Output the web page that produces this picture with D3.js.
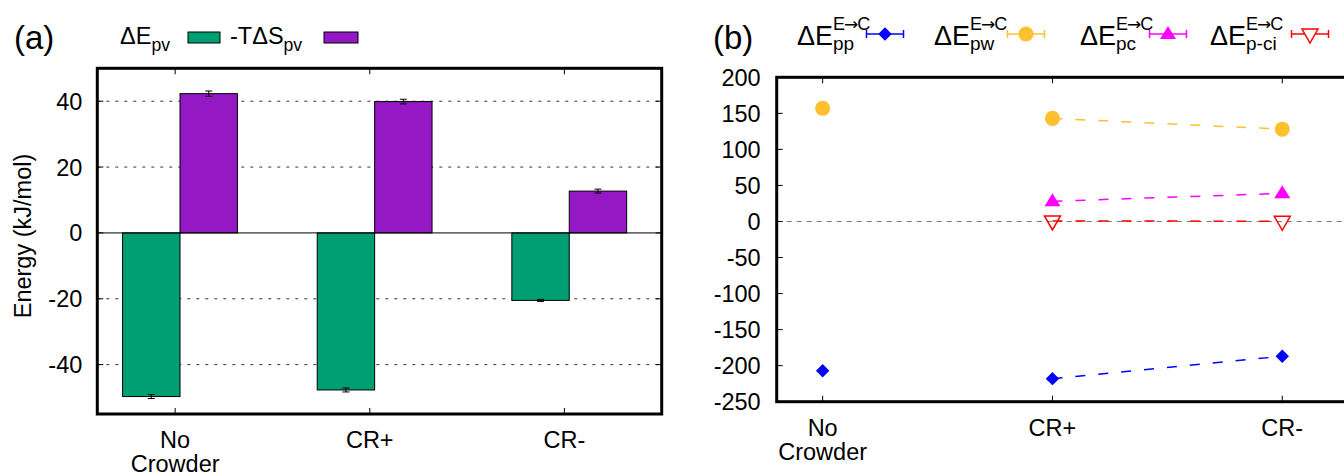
<!DOCTYPE html>
<html>
<head>
<meta charset="utf-8">
<script src="https://cdn.jsdelivr.net/npm/d3@7"></script>
<style>
  body { margin: 0; background: #fff; }
  text { font-family: "Liberation Sans", Arial, sans-serif; fill: #000; }
</style>
</head>
<body>
<div id="chart"></div>
<script>
// ---------------------------------------------------------------------------
// Data

var groups = ["No Crowder", "CR+", "CR-"];

// panel (a): bars
var dEpv      = [-49.7, -47.7, -20.5];
var dEpvErr   = [0.6, 0.6, 0.3];
var tdSpv     = [42.3, 39.9, 12.7];
var tdSpvErr  = [0.8, 0.7, 0.6];
var yTicksA   = [-40, -20, 0, 20, 40];

// panel (b): E -> C energy components
var ePP  = [-207, -218, -187];
var ePW  = [157, 143, 128];
var ePC  = [null, 28, 39];
var ePCI = [null, 0.8, 0.3];
var yTicksB = [-250, -200, -150, -100, -50, 0, 50, 100, 150, 200];

// ---------------------------------------------------------------------------

var W = 1344, H = 476;
var green = "#009e73", purple = "#9418c4";

var svg = d3.select("#chart").append("svg")
    .attr("width", W).attr("height", H);

// scales
var xA = d3.scaleLinear().domain([-0.4, 2.5]).range([97.3, 661.7]);
var yA = d3.scaleLinear().domain([-55, 50]).range([414, 68.3]);
var xB = d3.scaleLinear().domain([-0.2, 2.3]).range([776.7, 1351.2]);
var yB = d3.scaleLinear().domain([-250, 200]).range([401.7, 77.3]);

var fs = 23.5;

function groupLabel(g, x, y0, name) {
    var lines = name === "No Crowder" ? ["No", "Crowder"] : [name];
    lines.forEach(function(s, i) {
        g.append("text").attr("x", x).attr("y", y0 + i * 24)
            .attr("text-anchor", "middle").attr("font-size", fs).text(s);
    });
}

//////////////////////////////////////////////////////////////////////////////
// Panel (a)

var pa = svg.append("g");

// grid lines
pa.append("g").selectAll("line")
    .data(yTicksA.filter(function(d) { return d !== 0; }))
    .enter().append("line")
    .attr("x1", xA.range()[0]).attr("x2", xA.range()[1])
    .attr("y1", function(d) { return yA(d); }).attr("y2", function(d) { return yA(d); })
    .attr("stroke", "#333").attr("stroke-width", 1)
    .attr("stroke-dasharray", "3,6");

var bw = 0.295;

pa.append("g").selectAll("rect")
    .data(dEpv).enter().append("rect")
    .attr("x", function(d, i) { return xA(i - 0.27); })
    .attr("width", xA(bw) - xA(0))
    .attr("y", function(d) { return yA(Math.max(0, d)); })
    .attr("height", function(d) { return Math.abs(yA(d) - yA(0)); })
    .attr("fill", green).attr("stroke", "#000").attr("stroke-width", 1);

pa.append("g").selectAll("rect")
    .data(tdSpv).enter().append("rect")
    .attr("x", function(d, i) { return xA(i - 0.27 + bw); })
    .attr("width", xA(bw) - xA(0))
    .attr("y", function(d) { return yA(Math.max(0, d)); })
    .attr("height", function(d) { return Math.abs(yA(d) - yA(0)); })
    .attr("fill", purple).attr("stroke", "#000").attr("stroke-width", 1);

// error bars
function errBars(vals, errs, off) {
    vals.forEach(function(v, i) {
        var cx = xA(i + off);
        var e = pa.append("g").attr("stroke", "#000").attr("stroke-width", 1);
        e.append("line").attr("x1", cx).attr("x2", cx)
            .attr("y1", yA(v - errs[i])).attr("y2", yA(v + errs[i]));
        [v - errs[i], v + errs[i]].forEach(function(t) {
            e.append("line").attr("x1", cx - 3.5).attr("x2", cx + 3.5)
                .attr("y1", yA(t)).attr("y2", yA(t));
        });
    });
}
errBars(dEpv, dEpvErr, -0.27 + bw / 2);
errBars(tdSpv, tdSpvErr, -0.27 + 1.5 * bw);

// zero line
pa.append("line")
    .attr("x1", xA.range()[0]).attr("x2", xA.range()[1])
    .attr("y1", yA(0)).attr("y2", yA(0))
    .attr("stroke", "#000").attr("stroke-width", 1);

// ticks (inward, mirrored)
yTicksA.forEach(function(t) {
    pa.append("line").attr("x1", xA.range()[0]).attr("x2", xA.range()[0] + 6)
        .attr("y1", yA(t)).attr("y2", yA(t)).attr("stroke", "#000");
    pa.append("line").attr("x1", xA.range()[1]).attr("x2", xA.range()[1] - 6)
        .attr("y1", yA(t)).attr("y2", yA(t)).attr("stroke", "#000");
    pa.append("text").attr("x", xA.range()[0] - 15).attr("y", yA(t))
        .attr("dy", "0.36em").attr("text-anchor", "end").attr("font-size", fs)
        .text(t);
});
groups.forEach(function(g, i) {
    pa.append("line").attr("x1", xA(i)).attr("x2", xA(i))
        .attr("y1", yA.range()[0]).attr("y2", yA.range()[0] - 6).attr("stroke", "#000");
    pa.append("line").attr("x1", xA(i)).attr("x2", xA(i))
        .attr("y1", yA.range()[1]).attr("y2", yA.range()[1] + 6).attr("stroke", "#000");
    groupLabel(pa, xA(i), 448, g);
});

// frame
pa.append("rect")
    .attr("x", xA.range()[0]).attr("y", yA.range()[1])
    .attr("width", xA.range()[1] - xA.range()[0])
    .attr("height", yA.range()[0] - yA.range()[1])
    .attr("fill", "none").attr("stroke", "#000").attr("stroke-width", 3);

// y label
pa.append("text")
    .attr("transform", "translate(31,236) rotate(-90)")
    .attr("text-anchor", "middle").attr("font-size", fs)
    .text("Energy (kJ/mol)");

pa.append("text").attr("x", 14).attr("y", 49).attr("font-size", 33).text("(a)");

// legend (a)
function subLabel(g, x, y, main, sub, size) {
    var t = g.append("text").attr("x", x).attr("y", y).attr("font-size", size);
    t.append("tspan").text(main);
    t.append("tspan").attr("font-size", size * 0.75).attr("dy", size * 0.3).text(sub);
    return t;
}
subLabel(pa, 120, 44, "\u0394E", "pv", fs);
pa.append("rect").attr("x", 188).attr("y", 32).attr("width", 32).attr("height", 11)
    .attr("fill", green).attr("stroke", "#000");
subLabel(pa, 230, 44, "-T\u0394S", "pv", fs);
pa.append("rect").attr("x", 324).attr("y", 32).attr("width", 34).attr("height", 11)
    .attr("fill", purple).attr("stroke", "#000");

//////////////////////////////////////////////////////////////////////////////
// Panel (b)

var pb = svg.append("g");

pb.append("line")
    .attr("x1", xB.range()[0]).attr("x2", xB.range()[1])
    .attr("y1", yB(0)).attr("y2", yB(0))
    .attr("stroke", "#777").attr("stroke-width", 1.2).attr("stroke-dasharray", "5,5");

var diamond = d3.symbol().type(d3.symbolDiamond2).size(115);
var circle = d3.symbol().type(d3.symbolCircle).size(180);
function triUp() { return "M-8,5L8,5L0,-8Z"; }
function triDown() { return "M-8,-5L8,-5L0,9Z"; }

var series = [
    { vals: ePP,  color: "#0000ff", path: function() { return diamond(); }, fill: true,  sub: "pp" },
    { vals: ePW,  color: "#ffc030", path: function() { return circle(); },  fill: true,  sub: "pw" },
    { vals: ePC,  color: "#ff00ff", path: triUp,   fill: true,  sub: "pc" },
    { vals: ePCI, color: "#ff0000", path: triDown, fill: false, sub: "p-ci" }
];

var line = d3.line()
    .defined(function(d) { return d != null; })
    .x(function(d, i) { return xB(i); })
    .y(function(d) { return yB(d); });

series.forEach(function(s) {
    var pts = s.vals.map(function(v, i) { return i === 0 ? null : v; });
    pb.append("path").attr("d", line(pts))
        .attr("fill", "none").attr("stroke", s.color).attr("stroke-width", 1.5)
        .attr("stroke-dasharray", "10,13");
});
series.forEach(function(s) {
    pb.append("g").selectAll("path")
        .data(s.vals.map(function(v, i) { return { v: v, i: i }; })
            .filter(function(d) { return d.v != null; }))
        .enter().append("path")
        .attr("transform", function(d) { return "translate(" + xB(d.i) + "," + yB(d.v) + ")"; })
        .attr("d", s.path)
        .attr("fill", s.fill ? s.color : "none")
        .attr("stroke", s.fill ? "none" : s.color)
        .attr("stroke-width", 1.5);
});

// ticks
yTicksB.forEach(function(t) {
    pb.append("line").attr("x1", xB.range()[0]).attr("x2", xB.range()[0] + 6)
        .attr("y1", yB(t)).attr("y2", yB(t)).attr("stroke", "#000");
    pb.append("text").attr("x", xB.range()[0] - 16).attr("y", yB(t))
        .attr("dy", "0.36em").attr("text-anchor", "end").attr("font-size", fs)
        .text(t);
});
groups.forEach(function(g, i) {
    pb.append("line").attr("x1", xB(i)).attr("x2", xB(i))
        .attr("y1", yB.range()[0]).attr("y2", yB.range()[0] - 6).attr("stroke", "#000");
    pb.append("line").attr("x1", xB(i)).attr("x2", xB(i))
        .attr("y1", yB.range()[1]).attr("y2", yB.range()[1] + 6).attr("stroke", "#000");
    groupLabel(pb, xB(i), 436, g);
});

pb.append("rect")
    .attr("x", xB.range()[0]).attr("y", yB.range()[1])
    .attr("width", xB.range()[1] - xB.range()[0])
    .attr("height", yB.range()[0] - yB.range()[1])
    .attr("fill", "none").attr("stroke", "#000").attr("stroke-width", 3);

pb.append("text").attr("x", 713).attr("y", 49).attr("font-size", 33).text("(b)");

// legend (b)
var legX = [797, 934, 1080, 1210];
var legM = [885, 1026, 1168, 1310];
series.forEach(function(s, k) {
    var t = pb.append("text").attr("x", legX[k]).attr("y", 45).attr("font-size", 27)
        .text("\u0394E");
    var w = t.node().getComputedTextLength();
    var sp = pb.append("text").attr("x", legX[k] + w).attr("y", 30).attr("font-size", 18);
    sp.append("tspan").text("E");
    sp.append("tspan").attr("font-family", "DejaVu Sans").attr("font-size", 17)
        .attr("dx", -1).text("\u2192");
    sp.append("tspan").attr("dx", -1).text("C");
    pb.append("text").attr("x", legX[k] + w).attr("y", 50).attr("font-size", 19).text(s.sub);
    var lg = pb.append("g").attr("stroke", s.color).attr("stroke-width", 1.5);
    lg.append("line").attr("x1", legM[k] - 18.5).attr("x2", legM[k] + 18.5)
        .attr("y1", 34).attr("y2", 34);
    [-18.5, 18.5].forEach(function(o) {
        lg.append("line").attr("x1", legM[k] + o).attr("x2", legM[k] + o)
            .attr("y1", 30).attr("y2", 38);
    });
    pb.append("path").attr("transform", "translate(" + legM[k] + ",34)")
        .attr("d", s.path)
        .attr("fill", s.fill ? s.color : "#fff")
        .attr("stroke", s.fill ? "none" : s.color)
        .attr("stroke-width", 1.5);
});
</script>
</body>
</html>
